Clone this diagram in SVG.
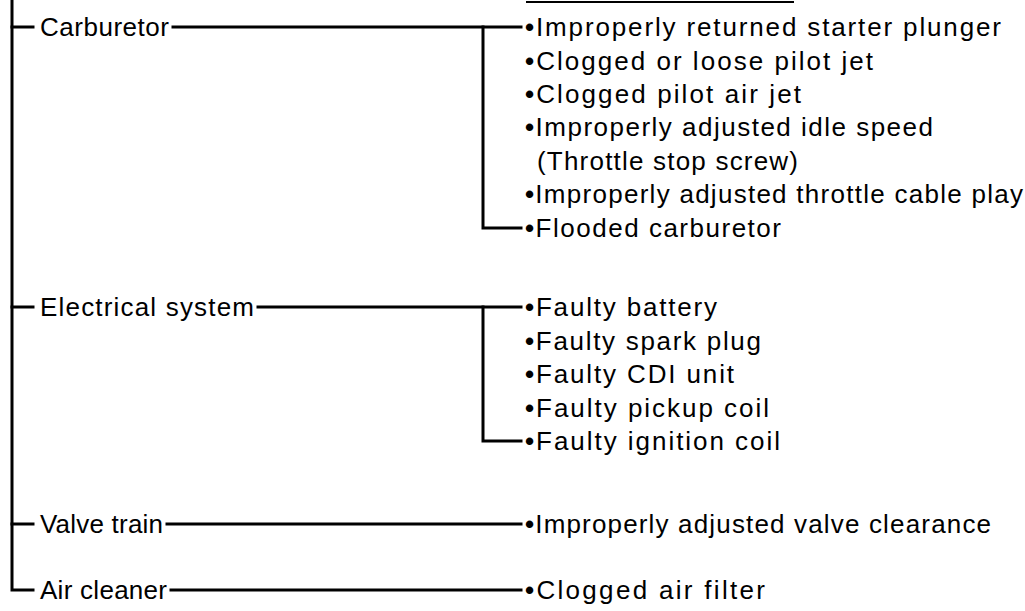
<svg xmlns="http://www.w3.org/2000/svg" width="1025" height="611" viewBox="0 0 1025 611">
<style>
.ln{stroke:#000;stroke-width:3;fill:none;stroke-linecap:square}
.t{font-family:"Liberation Sans",Arial,sans-serif;font-size:26px;fill:#000;dominant-baseline:central}
.b{font-weight:bold}
</style>
<rect width="1025" height="611" fill="#fff"/>
<g id="connectors">
<line class="ln" x1="527" y1="2" x2="793" y2="2" style="stroke-width:2"/>
<path class="ln" d="M12 0 V590 H33"/>
<line class="ln" x1="12" y1="27" x2="33" y2="27"/>
<line class="ln" x1="12" y1="307" x2="33" y2="307"/>
<line class="ln" x1="12" y1="524" x2="33" y2="524"/>
<line class="ln" x1="173" y1="27" x2="521" y2="27"/>
<path class="ln" d="M483 27 V228 H521"/>
<line class="ln" x1="258" y1="307" x2="521" y2="307"/>
<path class="ln" d="M483 307 V441 H521"/>
<line class="ln" x1="167" y1="524" x2="521" y2="524"/>
<line class="ln" x1="171" y1="590" x2="521" y2="590"/>
</g>
<g id="carburetor"><text class="t" x="40" y="27" textLength="129">Carburetor</text></g>
<g id="electrical"><text class="t" x="40" y="307" textLength="214">Electrical system</text></g>
<g id="valve"><text class="t" x="40" y="524" textLength="123">Valve train</text></g>
<g id="air"><text class="t" x="40" y="590" textLength="127">Air cleaner</text></g>
<g id="carb-causes">
<text class="t" x="525" y="27" textLength="476"><tspan class="b">•</tspan>Improperly returned starter plunger</text>
<text class="t" x="525" y="61" textLength="348"><tspan class="b">•</tspan>Clogged or loose pilot jet</text>
<text class="t" x="525" y="94" textLength="276"><tspan class="b">•</tspan>Clogged pilot air jet</text>
<text class="t" x="525" y="127" textLength="408"><tspan class="b">•</tspan>Improperly adjusted idle speed</text>
<text class="t" x="537" y="161" textLength="261">(Throttle stop screw)</text>
<text class="t" x="525" y="194" textLength="498"><tspan class="b">•</tspan>Improperly adjusted throttle cable play</text>
<text class="t" x="525" y="228" textLength="256"><tspan class="b">•</tspan>Flooded carburetor</text>
</g>
<g id="elec-causes">
<text class="t" x="525" y="307" textLength="192"><tspan class="b">•</tspan>Faulty battery</text>
<text class="t" x="525" y="341" textLength="236"><tspan class="b">•</tspan>Faulty spark plug</text>
<text class="t" x="525" y="374" textLength="209"><tspan class="b">•</tspan>Faulty CDI unit</text>
<text class="t" x="525" y="408" textLength="244"><tspan class="b">•</tspan>Faulty pickup coil</text>
<text class="t" x="525" y="441" textLength="255"><tspan class="b">•</tspan>Faulty ignition coil</text>
</g>
<g id="valve-causes"><text class="t" x="525" y="524" textLength="466"><tspan class="b">•</tspan>Improperly adjusted valve clearance</text></g>
<g id="air-causes"><text class="t" x="525" y="590" textLength="240"><tspan class="b">•</tspan>Clogged air filter</text></g>
</svg>
